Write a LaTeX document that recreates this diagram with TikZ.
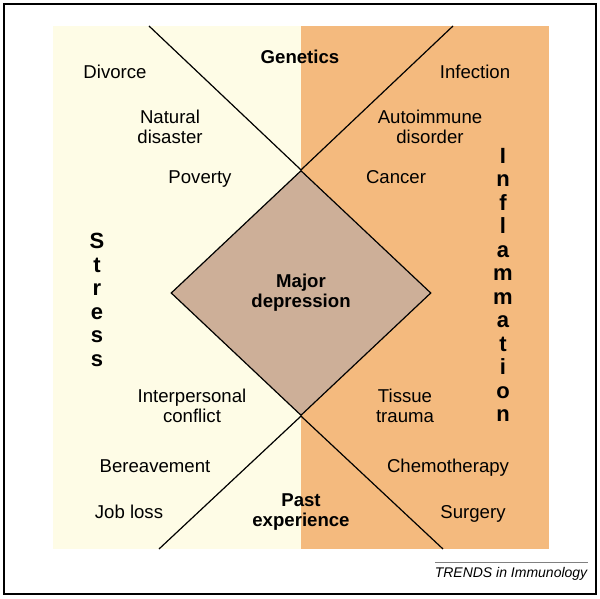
\documentclass[tikz,border=0pt]{standalone}
\usepackage{fontspec}
\setmainfont{Liberation Sans}
\usetikzlibrary{shapes.geometric}
\definecolor{stresscol}{HTML}{FEFCE6}
\definecolor{inflamcol}{HTML}{F4BA7E}
\definecolor{depcol}{HTML}{CDAF98}

\begin{document}
\begin{tikzpicture}[x=0.5pt,y=-0.5pt,
    lbl/.style={font=\fontsize{9.3}{10}\selectfont, align=center, inner sep=0pt},
    head/.style={lbl, font=\fontsize{9.3}{10}\selectfont\bfseries},
    vword/.style={font=\fontsize{11}{11.75}\selectfont\bfseries, align=center, inner sep=0pt},
    xline/.style={line width=0.6pt}]
    \useasboundingbox (0,0) rectangle (600,599);
    \draw[line width=0.6pt] (4,4) rectangle (596,594);
    \fill[stresscol] (53,26) rectangle (301,549);
    \fill[inflamcol] (301,26) rectangle (549,549);

    % ends of the cross
    \coordinate (tl) at (149,26);
    \coordinate (tr) at (453,26);
    \coordinate (bl) at (159,549);
    \coordinate (br) at (443,549);

    \node[diamond, draw, fill=depcol, line width=0.6pt, inner sep=0pt,
          minimum width=130pt, minimum height=122.5pt, align=center,
          font=\fontsize{9.3}{10}\selectfont\bfseries] (dep) at (301,293) {Major\\depression};
    \draw[xline] (tl) -- (dep.north) -- (tr);
    \draw[xline] (bl) -- (dep.south) -- (br);

    \node[head] (gen) at (300,57) {Genetics};
    \node[head] (past) at (301,512) {Past\\experience};

    % stress side
    \node[lbl] (divorce) at (115,72) {Divorce};
    \node[lbl] (natural) at (170,127) {Natural\\disaster};
    \node[lbl] (poverty) at (200,179) {Poverty};
    \node[lbl] (conflict) at (192,406) {Interpersonal\\conflict};
    \node[lbl] (bereave) at (155,466) {Bereavement};
    \node[lbl] (job) at (129,512) {Job loss};
    \node[vword] (stress) at (97,300) {S\\t\\r\\e\\s\\s};

    % inflammation side
    \node[lbl] (infect) at (475,72) {Infection};
    \node[lbl] (auto) at (430,127) {Autoimmune\\disorder};
    \node[lbl] (cancer) at (396,177) {Cancer};
    \node[lbl] (tissue) at (405,406) {Tissue\\trauma};
    \node[lbl] (chemo) at (448,468) {Chemotherapy};
    \node[lbl] (surgery) at (473,514) {Surgery};
    \node[vword] (inflam) at (503,285) {I\\n\\f\\l\\a\\m\\m\\a\\t\\i\\o\\n};

    \coordinate (fl) at (435,562);
    \coordinate (fr) at (588,562);
    \draw[line width=0.4pt, gray] (fl) -- (fr);
    \node[font=\fontsize{7}{8}\selectfont\itshape, anchor=base, inner sep=0pt] (src) at (511,577) {TRENDS in Immunology};
\end{tikzpicture}
\end{document}
